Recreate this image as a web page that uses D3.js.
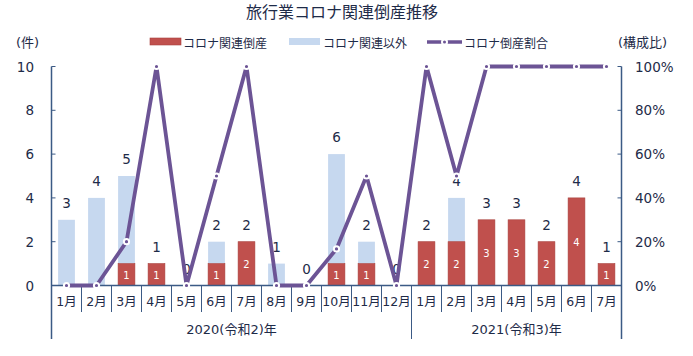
<!DOCTYPE html>
<html><head><meta charset="utf-8">
<script src="https://cdn.jsdelivr.net/npm/d3@7"></script>
<style>
html,body{margin:0;padding:0;background:#fff;}
svg{display:block;font-family:"DejaVu Sans","Noto Sans CJK JP",sans-serif;}
</style></head>
<body><svg id="c" width="693" height="356"></svg>
<script>
const title = "旅行業コロナ関連倒産推移";
const months = ["1月","2月","3月","4月","5月","6月","7月","8月","9月","10月","11月","12月","1月","2月","3月","4月","5月","6月","7月"];
const corona = [0,0,1,1,0,1,2,0,0,1,1,0,2,2,3,3,2,4,1];
const other  = [3,4,4,0,0,1,0,1,0,5,1,0,0,2,0,0,0,0,0];
const ratio  = [0,0,20,100,0,50,100,0,0,16.7,50,0,100,50,100,100,100,100,100];
const yearLabels = ["2020(令和2)年","2021(令和3)年"];
const yearStarts = [0,12];
const yearEnds = [12,19];
const leftTicks = [0,2,4,6,8,10];
const rightTicks = [0,20,40,60,80,100];
const seriesNames = ["コロナ関連倒産","コロナ関連以外","コロナ倒産割合"];

const RED="#c0504d", BLUE="#c6d8ef", PURPLE="#6c5495", AX="#3b5a85", TXT="#1e2b48";
const svg = d3.select("#c");
const L=51.5, R=621.5, B=285.5, T=66.5, BOT=339;

const x = d3.scaleBand().domain(d3.range(months.length)).range([L,R]).paddingInner(0).paddingOuter(0);
const yL = d3.scaleLinear().domain([0,10]).range([B,T]);
const yR = d3.scaleLinear().domain([0,100]).range([B,T]);
const bw = x.bandwidth()*0.56;

// title
svg.append("text").attr("x",342).attr("y",11).attr("text-anchor","middle").attr("dominant-baseline","central")
  .attr("font-family","Noto Sans CJK JP").attr("font-size",16).attr("fill",TXT).text(title);

// unit labels
svg.append("text").attr("x",16).attr("y",42).attr("dominant-baseline","central").attr("font-size",13).attr("fill",TXT).text("(件)");
svg.append("text").attr("x",618).attr("y",42).attr("dominant-baseline","central").attr("font-size",13).attr("fill",TXT).text("(構成比)");

// legend
const lg = svg.append("g").attr("font-family","Noto Sans CJK JP").attr("font-size",12).attr("fill",TXT);
lg.append("rect").attr("x",150).attr("y",38).attr("width",31).attr("height",7).attr("fill",RED).attr("stroke","#a8403d").attr("stroke-width",0.6);
lg.append("text").attr("x",183).attr("y",42).attr("dominant-baseline","central").text(seriesNames[0]);
lg.append("rect").attr("x",289).attr("y",38).attr("width",31).attr("height",7).attr("fill",BLUE);
lg.append("text").attr("x",323).attr("y",42).attr("dominant-baseline","central").text(seriesNames[1]);
lg.append("line").attr("x1",427).attr("x2",462).attr("y1",42).attr("y2",42).attr("stroke",PURPLE).attr("stroke-width",3.5);
lg.append("circle").attr("cx",444.5).attr("cy",42).attr("r",2.5).attr("fill",PURPLE).attr("stroke","#fff").attr("stroke-width",2);
lg.append("text").attr("x",464).attr("y",42).attr("dominant-baseline","central").text(seriesNames[2]);

// bars
const bars = svg.append("g");
bars.selectAll("rect.o").data(months).join("rect")
  .attr("x",(d,i)=>x(i)+(x.bandwidth()-bw)/2).attr("width",bw)
  .attr("y",(d,i)=>yL(corona[i]+other[i])).attr("height",(d,i)=>yL(corona[i])-yL(corona[i]+other[i]))
  .attr("fill",BLUE);
bars.selectAll("rect.c").data(months).join("rect")
  .attr("x",(d,i)=>x(i)+(x.bandwidth()-bw)/2).attr("width",bw)
  .attr("y",(d,i)=>yL(corona[i])).attr("height",(d,i)=>yL(0)-yL(corona[i]))
  .attr("fill",RED).attr("stroke",(d,i)=>corona[i]>0?"#a8403d":"none").attr("stroke-width",0.6);

// inner labels
svg.append("g").selectAll("text").data(months.map((m,i)=>i).filter(i=>corona[i]>0)).join("text")
  .attr("x",i=>x(i)+x.bandwidth()/2).attr("y",i=>(yL(corona[i])+yL(0))/2+1)
  .attr("text-anchor","middle").attr("dominant-baseline","central")
  .attr("font-size",10).attr("fill","#fff").text(i=>corona[i]);

// total labels
svg.append("g").selectAll("text").data(months).join("text")
  .attr("x",(d,i)=>x(i)+x.bandwidth()/2).attr("y",(d,i)=>yL(corona[i]+other[i])-17)
  .attr("text-anchor","middle").attr("dominant-baseline","central")
  .attr("font-size",13.5).attr("fill",TXT).text((d,i)=>corona[i]+other[i]);

// axes
const ax = svg.append("g").attr("stroke",AX).attr("stroke-width",1.5);
ax.append("line").attr("x1",L).attr("x2",L).attr("y1",T).attr("y2",BOT);
ax.append("line").attr("x1",R).attr("x2",R).attr("y1",T).attr("y2",BOT);
ax.append("line").attr("x1",L).attr("x2",R).attr("y1",B).attr("y2",B);
const tk = svg.append("g").attr("stroke",AX).attr("stroke-width",1);
leftTicks.forEach(v=>tk.append("line").attr("x1",L).attr("x2",L+4).attr("y1",yL(v)).attr("y2",yL(v)));
rightTicks.forEach(v=>tk.append("line").attr("x1",R-4).attr("x2",R).attr("y1",yR(v)).attr("y2",yR(v)));
d3.range(1,months.length).forEach(i=>{
  tk.append("line").attr("x1",x(i)).attr("x2",x(i)).attr("y1",B).attr("y2",yearStarts.includes(i)?BOT:312);
});

svg.append("g").selectAll("text").data(leftTicks).join("text")
  .attr("x",34).attr("y",d=>yL(d)).attr("text-anchor","end").attr("dominant-baseline","central")
  .attr("font-size",13.5).attr("fill",TXT).text(d=>d);
svg.append("g").selectAll("text").data(rightTicks).join("text")
  .attr("x",635).attr("y",d=>yR(d)).attr("dominant-baseline","central")
  .attr("font-size",13.5).attr("fill",TXT).text(d=>d+"%");

// month labels
svg.append("g").selectAll("text").data(months).join("text")
  .attr("x",(d,i)=>x(i)+x.bandwidth()/2).attr("y",301).attr("text-anchor","middle").attr("dominant-baseline","central")
  .attr("font-size",12.5).attr("fill",TXT).text(d=>d);
svg.append("g").selectAll("text").data(yearLabels).join("text")
  .attr("x",(d,i)=>(x(yearStarts[i])+(yearEnds[i]<months.length?x(yearEnds[i]):R))/2).attr("y",329)
  .attr("text-anchor","middle").attr("dominant-baseline","central")
  .attr("font-size",13).attr("fill",TXT).text(d=>d);

// line
const line = d3.line().x((d,i)=>x(i)+x.bandwidth()/2).y(d=>yR(d));
svg.append("path").datum(ratio).attr("d",line).attr("fill","none").attr("stroke",PURPLE)
  .attr("stroke-width",3.8).attr("stroke-linejoin","round");
svg.append("g").selectAll("circle").data(ratio).join("circle")
  .attr("cx",(d,i)=>x(i)+x.bandwidth()/2).attr("cy",d=>yR(d)).attr("r",2.6)
  .attr("fill",PURPLE).attr("stroke","#fff").attr("stroke-width",2);
</script></body></html>
